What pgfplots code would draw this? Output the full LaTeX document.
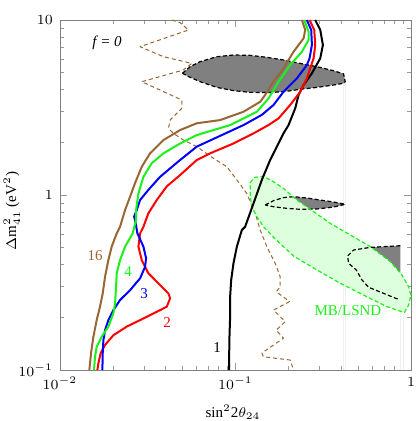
\documentclass[border=0pt]{standalone}
\usepackage{fontspec}
\setmainfont{Liberation Serif}
\usepackage{pgfplots}
\pgfplotsset{compat=1.18}
\definecolor{mbrown}{rgb}{0.6,0.4,0.2}
\definecolor{mgreen}{rgb}{0.1,0.95,0.1}
\definecolor{lgreen}{rgb}{0.87,1,0.87}
\definecolor{blobgray}{gray}{0.5}
\begin{document}
\begin{tikzpicture}[font=\fontsize{7.5}{9}\selectfont]
\begin{axis}[
  xmode=log, ymode=log,
  scale only axis,
  width=175.5pt, height=175pt,
  xmin=0.01, xmax=1, ymin=0.1, ymax=10,
  xtick={0.01,0.1,1}, xticklabels={$10^{-2}$,$10^{-1}$,$1$},
  ytick={0.1,1,10}, yticklabels={$10^{-1}$,$1$,$10$},
  axis line style={gray},
  tick style={gray!80},
  major tick length=3.5pt, minor tick length=2pt,
  tick align=inside,
  xlabel={sin\(^2\)2\(\theta_{24}\)},
  ylabel={\(\Delta\)m\(^2_{41}\) (eV\(^2\))},
  xlabel style={at={(axis description cs:0.493,-0.12)}, anchor=center},
  ylabel style={at={(axis description cs:-0.137,0.454)}, anchor=center},
  every axis plot/.append style={line join=round},
]
% faint vertical artefacts
\addplot[gray!12, line width=0.3pt] coordinates {(0.4095,4.35) (0.4095,0.1)};
\addplot[gray!12, line width=0.3pt] coordinates {(0.4240,4.35) (0.4240,0.1)};
\addplot[gray!12, line width=0.3pt] coordinates {(0.8695,0.253) (0.8695,0.1)};
\addplot[gray!12, line width=0.3pt] coordinates {(0.9083,0.213) (0.9083,0.1)};

% brown dashed curve
\addplot[mbrown, line width=0.5pt, dash pattern=on 2pt off 1.5pt] coordinates {
(0.04335,10) (0.04835,9.66) (0.05394,8.77) (0.0286,7.04) (0.03885,6.17)
(0.05636,5.65) (0.05051,5.18) (0.02923,4.44) (0.04942,3.49) (0.04942,3.13)
(0.04241,2.68) (0.04149,2.40) (0.04431,2.25) (0.05051,2.06) (0.06019,1.89)
(0.07491,1.62) (0.08925,1.45) (0.1018,1.22) (0.1160,1.02) (0.1295,0.786)
(0.1383,0.631) (0.1509,0.507) (0.1684,0.407) (0.1798,0.341) (0.1798,0.299)
(0.1706,0.280) (0.2032,0.246) (0.1647,0.220) (0.1920,0.189) (0.1706,0.169)
(0.1878,0.152) (0.1413,0.125) (0.1444,0.119) (0.2050,0.114) (0.2142,0.1)};

% gray blobs
\addplot[fill=blobgray, draw=none] coordinates {
(0.04986,4.96) (0.05513,5.41) (0.06289,5.78) (0.07827,6.17) (0.09741,6.31)
(0.1213,6.28) (0.1509,6.12) (0.1878,5.91) (0.2338,5.65) (0.2911,5.41)
(0.3623,5.13) (0.4130,4.92) (0.4221,4.44) (0.4130,4.35) (0.3623,4.25)
(0.2911,4.12) (0.2338,4.02) (0.1878,3.89) (0.1509,3.85) (0.1213,3.86)
(0.09741,3.95) (0.07827,4.12) (0.06289,4.44) (0.05394,4.75)} -- cycle;
\addplot[fill=blobgray, draw=none] coordinates {
(0.1476,0.877) (0.1647,0.928) (0.1878,0.966) (0.2142,0.978) (0.2551,0.961)
(0.3041,0.936) (0.3623,0.912) (0.4221,0.885) (0.3623,0.853) (0.2911,0.832)
(0.2338,0.828) (0.1963,0.839) (0.1647,0.857)} -- cycle;
\addplot[fill=blobgray, draw=none] coordinates {
(0.8695,0.513) (0.5862,0.502) (0.4710,0.485) (0.4353,0.448) (0.4411,0.407)
(0.4878,0.373) (0.5254,0.327) (0.5735,0.297) (0.6983,0.274) (0.8507,0.253)
(0.8695,0.253)} -- cycle;

% MB/LSND region fill
\addplot[fill=lgreen, draw=none] coordinates {
(0.1213,1.175) (0.1278,1.26) (0.1444,1.28) (0.1647,1.19) (0.1878,1.09)
(0.2238,0.936) (0.2786,0.803) (0.3467,0.689) (0.4508,0.591) (0.5862,0.507)
(0.7624,0.416) (0.8887,0.349) (0.9698,0.299) (0.999,0.268) (0.9698,0.235)
(0.9162,0.213) (0.7297,0.230) (0.5610,0.262) (0.3954,0.313) (0.2911,0.373)
(0.2142,0.448) (0.1647,0.573) (0.1444,0.659) (0.1323,0.752) (0.1240,0.857)
(0.1213,0.978)} -- cycle;

% black dashed outlines
\addplot[black, line width=0.6pt, dash pattern=on 2pt off 1.2pt] coordinates {
(0.04986,4.96) (0.05513,5.41) (0.06289,5.78) (0.07827,6.17) (0.09741,6.31)
(0.1213,6.28) (0.1509,6.12) (0.1878,5.91) (0.2338,5.65) (0.2911,5.41)
(0.3623,5.13) (0.4130,4.92) (0.4221,4.44) (0.4130,4.35) (0.3623,4.25)
(0.2911,4.12) (0.2338,4.02) (0.1878,3.89) (0.1509,3.85) (0.1213,3.86)
(0.09741,3.95) (0.07827,4.12) (0.06289,4.44) (0.05394,4.75)} -- cycle;
\addplot[black, line width=0.6pt, dash pattern=on 2pt off 1.2pt] coordinates {
(0.1476,0.877) (0.1647,0.928) (0.1878,0.966) (0.2142,0.978) (0.2551,0.961)
(0.3041,0.936) (0.3623,0.912) (0.4221,0.885) (0.3623,0.853) (0.2911,0.832)
(0.2338,0.828) (0.1963,0.839) (0.1647,0.857)} -- cycle;
\addplot[black, line width=0.6pt, dash pattern=on 2pt off 1.2pt] coordinates {
(0.8695,0.513) (0.5862,0.502) (0.4710,0.485) (0.4353,0.448) (0.4411,0.407)
(0.4878,0.373) (0.5254,0.327) (0.5735,0.297) (0.6983,0.274) (0.8507,0.253)};

% MB/LSND outline
\addplot[mgreen, line width=0.6pt, dash pattern=on 2pt off 1.2pt] coordinates {
(0.1213,1.175) (0.1278,1.26) (0.1444,1.28) (0.1647,1.19) (0.1878,1.09)
(0.2238,0.936) (0.2786,0.803) (0.3467,0.689) (0.4508,0.591) (0.5862,0.507)
(0.7624,0.416) (0.8887,0.349) (0.9698,0.299) (0.999,0.268) (0.9698,0.235)
(0.9162,0.213) (0.7297,0.230) (0.5610,0.262) (0.3954,0.313) (0.2911,0.373)
(0.2142,0.448) (0.1647,0.573) (0.1444,0.659) (0.1323,0.752) (0.1240,0.857)
(0.1213,0.978)} -- cycle;

% f = 1
\addplot[black, line width=1pt] coordinates {
(0.0920,0.1) (0.0920,0.119) (0.0924,0.155) (0.0932,0.202) (0.0932,0.262)
(0.0945,0.327) (0.0974,0.407) (0.1018,0.507) (0.1087,0.631) (0.1135,0.659)
(0.1267,0.896) (0.1413,1.22) (0.1576,1.585) (0.1878,2.25) (0.2006,2.51)
(0.2189,3.13) (0.2288,3.73) (0.2443,4.25) (0.2725,4.96) (0.3041,6.04)
(0.3148,7.20) (0.3041,8.77) (0.2847,10)};

% 2
\addplot[red, line width=1pt] coordinates {
(0.01633,0.1) (0.01654,0.109) (0.01706,0.125) (0.01806,0.139) (0.02015,0.158)
(0.024,0.177) (0.02988,0.197) (0.03558,0.215) (0.04059,0.230) (0.04241,0.257)
(0.04149,0.274) (0.03718,0.306) (0.03189,0.357) (0.02923,0.425) (0.02798,0.507)
(0.0286,0.604) (0.02988,0.659) (0.03189,0.786) (0.03558,0.936) (0.04059,1.12)
(0.04835,1.30) (0.06019,1.585) (0.0717,1.73) (0.09741,1.97) (0.1267,2.25)
(0.1542,2.51) (0.1759,2.74) (0.2050,3.27) (0.2338,3.89) (0.2551,4.64)
(0.2786,6.04) (0.2847,7.20) (0.2810,8.77) (0.2643,10)};

% 3
\addplot[blue, line width=1pt] coordinates {
(0.01744,0.1) (0.01752,0.125) (0.01767,0.148) (0.01806,0.169) (0.01887,0.193)
(0.02015,0.220) (0.02199,0.251) (0.02508,0.286) (0.0286,0.334) (0.03054,0.389)
(0.03094,0.435) (0.02988,0.507) (0.02761,0.604) (0.02678,0.720) (0.02643,0.752)
(0.02737,0.821) (0.0286,0.936) (0.03189,1.07) (0.03718,1.27) (0.04835,1.585)
(0.06019,1.89) (0.1111,2.51) (0.1413,2.87) (0.1647,3.27) (0.1878,3.89)
(0.2238,4.64) (0.2551,5.53) (0.2643,6.04) (0.2725,7.20) (0.2701,8.77) (0.2551,10)};

% 4
\addplot[mgreen, line width=1pt] coordinates {
(0.01563,0.1) (0.01584,0.119) (0.01619,0.136) (0.01729,0.155) (0.01887,0.177)
(0.02015,0.211) (0.0206,0.240) (0.02087,0.299) (0.02105,0.357) (0.02199,0.425)
(0.02349,0.507) (0.02597,0.604) (0.02713,0.720) (0.02713,0.821) (0.02798,1.02)
(0.02988,1.27) (0.03332,1.52) (0.03885,1.73) (0.04835,1.97) (0.06019,2.20)
(0.09324,2.51) (0.1323,2.99) (0.1542,3.56) (0.1759,4.44) (0.2050,5.53)
(0.2390,6.59) (0.2608,7.69) (0.2608,8.58) (0.2464,10)};

% 16
\addplot[mbrown, line width=1pt] coordinates {
(0.0147,0.1) (0.01503,0.125) (0.0155,0.155) (0.01619,0.193) (0.0169,0.230)
(0.01752,0.274) (0.01806,0.341) (0.01887,0.425) (0.01971,0.507) (0.02105,0.604)
(0.02199,0.659) (0.02349,0.821) (0.02508,0.978) (0.02678,1.17) (0.02923,1.45)
(0.0326,1.73) (0.03885,2.06) (0.04835,2.35) (0.06019,2.57) (0.08178,2.68)
(0.1111,2.99) (0.1383,3.41) (0.1476,3.73) (0.1647,4.44) (0.1878,5.29)
(0.2142,6.59) (0.2443,7.86) (0.2496,8.77) (0.2390,10)};

\node at (axis cs:0.01854,7.39) {\textit{f = 0}};
\node[mbrown] at (axis cs:0.01584,0.448) {16};
\node[mgreen] at (axis cs:0.02442,0.363) {4};
\node[blue] at (axis cs:0.03013,0.272) {3};
\node[red] at (axis cs:0.04075,0.1856) {2};
\node[black] at (axis cs:0.0786,0.1336) {1};
\node[mgreen] at (axis cs:0.4373,0.2175) {MB/LSND};
\end{axis}
\pgfresetboundingbox
\path[use as bounding box] (-30pt,-25.5pt) rectangle (177.7pt,185pt);
\end{tikzpicture}
\end{document}
